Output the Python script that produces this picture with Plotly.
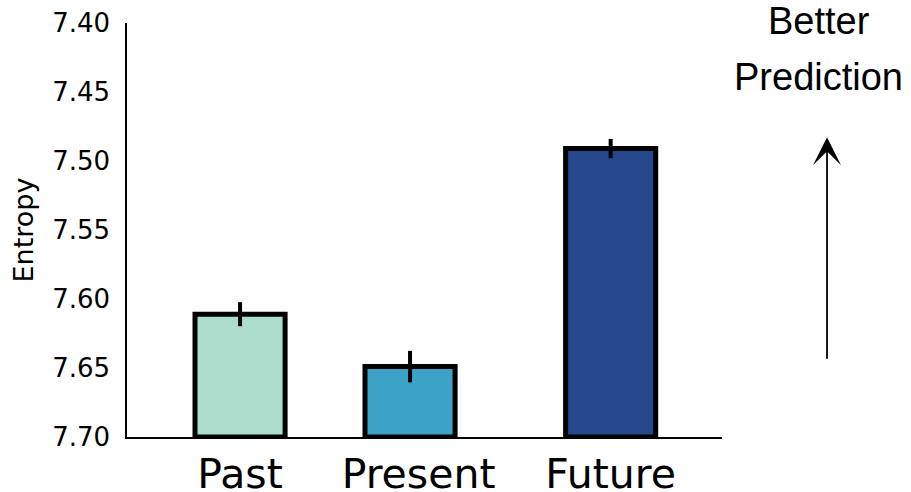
import plotly.graph_objects as go

# ---- data ----
categories = ["Past", "Present", "Future"]
entropy = [7.611, 7.649, 7.491]
errors = [0.0087, 0.0114, 0.0070]
bar_colors = ["#addecd", "#3ca2c7", "#25478c"]
y_ticks = [7.40, 7.45, 7.50, 7.55, 7.60, 7.65, 7.70]

# ---- layout helpers ----
x_pos = [0, 1, 2.18]
label_pos = [0, 1.05, 2.18]
baseline = 7.70

fig = go.Figure()
fig.add_trace(go.Bar(
    x=x_pos,
    y=[v - baseline for v in entropy],
    base=baseline,
    width=0.53,
    marker=dict(color=bar_colors, line=dict(color="black", width=5)),
    error_y=dict(type="data", array=errors, visible=True, color="black",
                 thickness=4, width=0),
    showlegend=False,
))

fig.update_layout(
    width=911, height=492,
    margin=dict(l=127, r=189, t=22.5, b=54.5),
    paper_bgcolor="white", plot_bgcolor="white",
    font=dict(family="DejaVu Sans", color="black"),
    xaxis=dict(
        range=[-0.665, 2.835],
        tickvals=label_pos, ticktext=categories,
        tickfont=dict(size=41, family="DejaVu Sans", color="black"),
        showgrid=False, zeroline=False, ticks="",
        ticklabelstandoff=0,
        showline=True, linecolor="black", linewidth=1.5,
        automargin=False,
    ),
    yaxis=dict(
        range=[7.70, 7.40],
        tickvals=y_ticks, tickformat=".2f",
        tickfont=dict(size=26, family="DejaVu Sans", color="black"),
        title=dict(text="Entropy", font=dict(size=27, family="DejaVu Sans", color="black"),
                   standoff=11),
        showgrid=False, zeroline=False, ticks="",
        ticklabelstandoff=10,
        showline=True, linecolor="black", linewidth=1.5,
        automargin=False,
    ),
    annotations=[
        dict(text="Better", xref="paper", yref="paper", x=1.163, y=1.006,
             xanchor="center", yanchor="middle", showarrow=False,
             font=dict(family="Liberation Sans", size=38, color="black")),
        dict(text="Prediction", xref="paper", yref="paper", x=1.163, y=0.869,
             xanchor="center", yanchor="middle", showarrow=False,
             font=dict(family="Liberation Sans", size=38, color="black")),
        dict(text="", xref="paper", yref="paper", x=1.1765, y=0.7241,
             ax=0, ay=223, showarrow=True, arrowhead=3, arrowsize=2.6,
             arrowwidth=1.8, arrowcolor="black"),
    ],
)

fig.write_html("out.html",
               config={"displayModeBar": False},
               post_script="document.body.style.margin='0';document.body.style.overflow='hidden';")
